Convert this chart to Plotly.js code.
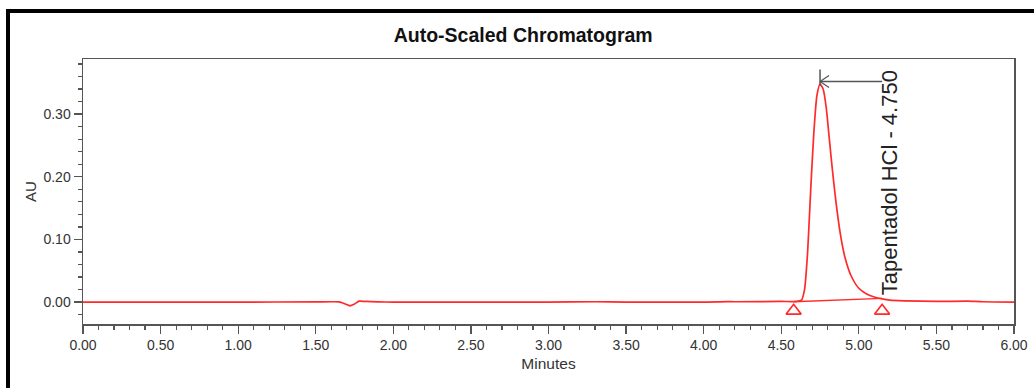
<!DOCTYPE html>
<html>
<head>
<meta charset="utf-8">
<script src="https://cdn.plot.ly/plotly-3.0.1.min.js"></script>
<style>
  html, body { margin: 0; padding: 0; background: #fff; }
  #wrap { position: relative; width: 1034px; height: 388px; overflow: hidden; }
  #chart { width: 1034px; height: 388px; }
  #frame { position: absolute; left: 6px; top: 9px; width: 1100px; height: 500px;
           border-left: 4px solid #000; border-top: 4px solid #000; pointer-events: none; }
</style>
</head>
<body>
<div id="wrap">
  <div id="chart"></div>
  <div id="frame"></div>
</div>
<script>
// Chromatogram signal (minutes, AU)
const timeMin = [0, 0.5, 1.0, 1.5, 1.6, 1.65, 1.69, 1.72, 1.75, 1.78, 1.82, 1.9, 2.0, 2.5, 3.0, 3.3, 3.5, 4.0, 4.15, 4.2, 4.5,
  4.6, 4.63, 4.65, 4.67, 4.69, 4.71, 4.73, 4.75, 4.77, 4.79, 4.81, 4.83, 4.85, 4.88, 4.91, 4.95, 5.0, 5.05, 5.1, 5.15, 5.2,
  5.3, 5.5, 5.7, 5.8, 6.0];
const signalAU = [0, 0, 0, 0.0003, 0.0005, 0.0003, -0.003, -0.006, -0.003, 0.0015, 0.001, 0.0003, 0, 0, 0, 0.0005, 0, 0, 0.0008, 0.0005, 0.001,
  0.001, 0.003, 0.02, 0.08, 0.18, 0.27, 0.33, 0.348, 0.34, 0.31, 0.26, 0.21, 0.165, 0.11, 0.072, 0.042, 0.022, 0.013, 0.008, 0.005, 0.003,
  0.002, 0.001, 0.0015, 0.0005, 0];

// Integration baseline (start / end markers)
const baseTimes = [4.58, 5.15];
const baseAU = [0.0005, 0.006];
const markerAU = [-0.014, -0.014];

// Peak label
const peakName = "Tapentadol HCl - 4.750";
const peakTime = 4.75;
const peakArrowAU = 0.352;
const labelTime = 5.195;
const labelAU = 0.19;

const xTickVals = [0, 0.5, 1, 1.5, 2, 2.5, 3, 3.5, 4, 4.5, 5, 5.5, 6];
const yTickVals = [0, 0.1, 0.2, 0.3];

const red = '#ff2a2a';
const axisCol = '#555';
const arrowCol = '#555';

const traces = [
  { x: timeMin, y: signalAU, mode: 'lines', line: { color: red, width: 1.7, shape: 'spline', smoothing: 0.6 }, hoverinfo: 'skip' },
  { x: baseTimes, y: baseAU, mode: 'lines', line: { color: red, width: 1.3 }, hoverinfo: 'skip' },
  { x: baseTimes, y: markerAU, mode: 'markers', marker: { symbol: 'triangle-up-open', size: 13, color: red, line: { width: 1.7, color: red } }, hoverinfo: 'skip' }
];

const layout = {
  width: 1034, height: 388,
  margin: { l: 83, r: 20, t: 59, b: 64 },
  paper_bgcolor: '#fff', plot_bgcolor: '#fff',
  showlegend: false,
  font: { family: 'Liberation Sans, Arial, sans-serif', color: '#333' },
  title: { text: '<b>Auto-Scaled Chromatogram</b>', x: 0.506, xanchor: 'center', y: 0.91, yanchor: 'middle',
           font: { size: 19.5, color: '#111', family: 'Liberation Sans, Arial, sans-serif' } },
  xaxis: {
    range: [0, 6], tickvals: xTickVals, tickformat: '.2f',
    showgrid: false, zeroline: false,
    showline: true, linecolor: axisCol, linewidth: 1.5, mirror: true,
    ticks: 'outside', ticklen: 8, tickwidth: 1.3, tickcolor: axisCol,
    minor: { dtick: 0.1, ticks: 'outside', ticklen: 4, tickwidth: 1.2, tickcolor: axisCol },
    tickfont: { size: 14, color: '#333' },
    title: { text: 'Minutes', font: { size: 15.5, color: '#333' }, standoff: 6 }
  },
  yaxis: {
    range: [-0.035, 0.388], tickvals: yTickVals, tickformat: '.2f',
    showgrid: false, zeroline: false,
    showline: true, linecolor: axisCol, linewidth: 1.5, mirror: true,
    ticks: 'outside', ticklen: 8, tickwidth: 1.3, tickcolor: axisCol,
    minor: { dtick: 0.02, ticks: 'outside', ticklen: 4, tickwidth: 1.2, tickcolor: axisCol },
    tickfont: { size: 14, color: '#333' },
    title: { text: 'AU', font: { size: 15, color: '#333' }, standoff: 3 }
  },
  annotations: [
    { x: labelTime, y: labelAU, xref: 'x', yref: 'y', text: peakName, textangle: -90, showarrow: false,
      font: { size: 22, color: '#222', family: 'Liberation Sans, Arial, sans-serif' } }
  ],
  shapes: [
    { type: 'line', xref: 'x', yref: 'y', x0: peakTime, x1: baseTimes[1], y0: peakArrowAU, y1: peakArrowAU,
      line: { color: arrowCol, width: 1.5 } },
    { type: 'line', xref: 'x', yref: 'y', xsizemode: 'pixel', ysizemode: 'pixel', xanchor: peakTime, yanchor: peakArrowAU,
      x0: 0, x1: 0, y0: -4, y1: 12, line: { color: arrowCol, width: 1.5 } },
    { type: 'line', xref: 'x', yref: 'y', xsizemode: 'pixel', ysizemode: 'pixel', xanchor: peakTime, yanchor: peakArrowAU,
      x0: 0, x1: 9, y0: 0, y1: 6, line: { color: arrowCol, width: 1.3 } },
    { type: 'line', xref: 'x', yref: 'y', xsizemode: 'pixel', ysizemode: 'pixel', xanchor: peakTime, yanchor: peakArrowAU,
      x0: 0, x1: 9, y0: 0, y1: -6, line: { color: arrowCol, width: 1.3 } }
  ]
};

Plotly.newPlot('chart', traces, layout, { staticPlot: true, displayModeBar: false });
</script>
</body>
</html>
